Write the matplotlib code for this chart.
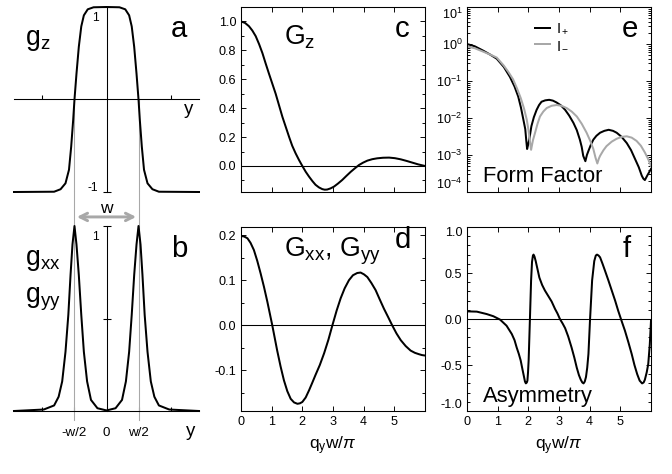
import matplotlib
matplotlib.use("Agg")
import matplotlib.pyplot as plt
from matplotlib.ticker import AutoMinorLocator, LogLocator, NullFormatter

plt.rcParams['font.family'] = ['Liberation Sans', 'DejaVu Sans']
plt.rcParams['mathtext.fontset'] = 'custom'
plt.rcParams['mathtext.rm'] = 'Liberation Sans'
plt.rcParams['mathtext.it'] = 'Liberation Sans:italic'
plt.rcParams['mathtext.bf'] = 'Liberation Sans:bold'
plt.rcParams['axes.unicode_minus'] = False

# real-space profiles (y in units of w)
y_a = [-1.43, -0.81, -0.71, -0.634, -0.58, -0.546, -0.515, -0.495, -0.464, -0.428,
       -0.39, -0.35, -0.29, -0.20, 0.0, 0.20, 0.29, 0.35, 0.39, 0.428, 0.464,
       0.495, 0.515, 0.546, 0.58, 0.634, 0.71, 0.81, 1.43]
gz = [-1.0, -0.997, -0.97, -0.906, -0.76, -0.51, -0.22, 0.0, 0.28, 0.57,
      0.79, 0.91, 0.975, 0.997, 1.0, 0.997, 0.975, 0.91, 0.79, 0.57, 0.28,
      0.0, -0.22, -0.51, -0.76, -0.906, -0.97, -0.997, -1.0]

y_b = [-1.43, -0.97, -0.81, -0.74, -0.685, -0.634, -0.59, -0.556, -0.526, -0.495,
       -0.464, -0.428, -0.39, -0.35, -0.30, -0.24, -0.14, 0.0, 0.14, 0.24, 0.30,
       0.35, 0.39, 0.428, 0.464, 0.495, 0.526, 0.556, 0.59, 0.634, 0.685, 0.74,
       0.81, 0.97, 1.43]
gxx = [0.0, 0.008, 0.03, 0.077, 0.16, 0.32, 0.52, 0.735, 0.90, 1.0,
       0.90, 0.735, 0.52, 0.32, 0.16, 0.06, 0.015, 0.003, 0.015, 0.06, 0.16,
       0.32, 0.52, 0.735, 0.90, 1.0, 0.90, 0.735, 0.52, 0.32, 0.16, 0.077,
       0.03, 0.008, 0.0]

# Fourier transforms vs q_y w / pi
q_c = [0.0, 0.13, 0.26, 0.37, 0.48, 0.59, 0.70, 0.80, 0.91, 1.02, 1.13, 1.24, 1.35,
       1.46, 1.57, 1.67, 1.78, 1.89, 2.0, 2.11, 2.22, 2.33, 2.43, 2.54, 2.65, 2.73,
       2.81, 2.92, 3.03, 3.16, 3.30, 3.44, 3.58, 3.72, 3.85, 3.98, 4.12, 4.28, 4.44,
       4.63, 4.83, 5.02, 5.21, 5.40, 5.59, 5.78, 6.0]
Gz = [1.0, 0.99, 0.967, 0.937, 0.898, 0.843, 0.78, 0.712, 0.64, 0.57, 0.50, 0.42,
      0.34, 0.27, 0.20, 0.14, 0.088, 0.042, 0.0, -0.04, -0.074, -0.105, -0.13,
      -0.148, -0.16, -0.164, -0.163, -0.155, -0.143, -0.122, -0.097, -0.068, -0.04,
      -0.015, 0.007, 0.023, 0.037, 0.047, 0.053, 0.057, 0.058, 0.054, 0.046, 0.035,
      0.023, 0.011, 0.0]

q_d = [0.0, 0.10, 0.21, 0.31, 0.42, 0.53, 0.64, 0.75, 0.86, 0.94, 1.02, 1.10, 1.18,
       1.29, 1.40, 1.51, 1.62, 1.73, 1.84, 1.92, 2.0, 2.11, 2.22, 2.32, 2.43, 2.57,
       2.71, 2.85, 2.98, 3.12, 3.25, 3.38, 3.52, 3.65, 3.79, 3.90, 4.01, 4.12, 4.25,
       4.39, 4.52, 4.66, 4.80, 4.93, 5.07, 5.21, 5.37, 5.53, 5.67, 5.80, 5.90, 6.0]
Gxx = [0.198, 0.197, 0.193, 0.183, 0.167, 0.143, 0.115, 0.085, 0.052, 0.026, 0.0,
       -0.028, -0.056, -0.091, -0.122, -0.146, -0.163, -0.171, -0.174, -0.173,
       -0.17, -0.16, -0.144, -0.128, -0.11, -0.088, -0.062, -0.032, 0.0, 0.033,
       0.06, 0.082, 0.10, 0.111, 0.116, 0.117, 0.113, 0.107, 0.094, 0.078, 0.058,
       0.037, 0.018, 0.0, -0.018, -0.033, -0.046, -0.056, -0.061, -0.064, -0.066,
       -0.067]

q_plus = [0.0, 0.25, 0.53, 0.75, 0.97, 1.20, 1.40, 1.55, 1.67, 1.76, 1.84, 1.90,
          1.93, 1.96, 2.0, 2.03, 2.10, 2.18, 2.27, 2.35, 2.43, 2.55, 2.68, 2.80,
          2.92, 3.06, 3.20, 3.33, 3.47, 3.58, 3.68, 3.74, 3.79, 3.86, 3.91, 3.96,
          4.04, 4.12, 4.22, 4.34, 4.48, 4.62, 4.76, 4.88, 5.04, 5.21, 5.35, 5.48,
          5.60, 5.70, 5.75, 5.80, 5.88, 6.0]
I_plus = [1.0, 0.87, 0.66, 0.52, 0.40, 0.24, 0.129, 0.071, 0.038, 0.019, 8.9e-3,
          5.0e-3, 2.6e-3, 1.45e-3, 2.0e-3, 2.6e-3, 6.0e-3, 1.05e-2, 1.66e-2,
          2.24e-2, 2.75e-2, 3.0e-2, 3.1e-2, 2.95e-2, 2.63e-2, 2.2e-2, 1.66e-2,
          1.17e-2, 7.4e-3, 4.7e-3, 2.6e-3, 1.66e-3, 9.5e-4, 6.8e-4, 1.0e-3, 1.29e-3,
          1.9e-3, 2.6e-3, 3.3e-3, 4.0e-3, 4.5e-3, 4.8e-3, 4.5e-3, 4.0e-3, 3.1e-3,
          2.1e-3, 1.35e-3, 7.8e-4, 4.7e-4, 2.75e-4, 2.3e-4, 2.1e-4, 2.8e-4, 4.2e-4]
q_minus = [0.0, 0.25, 0.53, 0.75, 0.97, 1.20, 1.35, 1.50, 1.63, 1.75, 1.86, 1.95,
           2.0, 2.04, 2.09, 2.15, 2.22, 2.30, 2.38, 2.49, 2.60, 2.76, 2.92, 3.08,
           3.25, 3.42, 3.58, 3.74, 3.90, 4.02, 4.12, 4.19, 4.25, 4.30, 4.34, 4.45,
           4.55, 4.72, 4.88, 5.05, 5.21, 5.37, 5.53, 5.67, 5.80, 5.90, 6.0]
I_minus = [0.85, 0.77, 0.62, 0.52, 0.43, 0.26, 0.175, 0.112, 0.063, 0.035, 0.018,
           8.9e-3, 5.0e-3, 2.8e-3, 1.38e-3, 2.5e-3, 4.0e-3, 7.0e-3, 1.1e-2, 1.5e-2,
           1.86e-2, 2.14e-2, 2.24e-2, 2.14e-2, 1.86e-2, 1.48e-2, 1.1e-2, 7.0e-3,
           4.0e-3, 2.4e-3, 1.45e-3, 8.5e-4, 5.9e-4, 8.0e-4, 9.5e-4, 1.35e-3, 1.74e-3,
           2.3e-3, 2.75e-3, 3.1e-3, 3.2e-3, 2.95e-3, 2.4e-3, 1.78e-3, 1.17e-3,
           8.0e-4, 5.1e-4]

q_f = [0.0, 0.32, 0.64, 0.86, 1.08, 1.29, 1.46, 1.55, 1.62, 1.69, 1.75, 1.81, 1.86,
       1.89, 1.92, 1.95, 1.97, 1.99, 2.01, 2.05, 2.09, 2.12, 2.15, 2.17, 2.20, 2.24,
       2.30, 2.36, 2.45, 2.54, 2.65, 2.76, 2.87, 2.95, 3.03, 3.12, 3.20, 3.30, 3.41,
       3.50, 3.58, 3.65, 3.71, 3.76, 3.80, 3.84, 3.88, 3.92, 3.96, 4.01, 4.08, 4.15,
       4.20, 4.24, 4.29, 4.34, 4.42, 4.50, 4.61, 4.72, 4.83, 4.93, 5.04, 5.15, 5.26,
       5.37, 5.46, 5.55, 5.63, 5.71, 5.76, 5.80, 5.86, 5.91, 5.96, 6.0]
asym = [0.083, 0.08, 0.054, 0.03, -0.007, -0.073, -0.163, -0.23, -0.31, -0.38,
        -0.45, -0.55, -0.63, -0.68, -0.70, -0.69, -0.67, -0.58, -0.45, -0.02, 0.42,
        0.62, 0.69, 0.70, 0.68, 0.63, 0.54, 0.45, 0.37, 0.31, 0.25, 0.19, 0.11,
        0.06, 0.0, -0.05, -0.10, -0.19, -0.31, -0.42, -0.53, -0.61, -0.66, -0.69,
        -0.70, -0.68, -0.63, -0.53, -0.38, -0.02, 0.42, 0.63, 0.69, 0.70, 0.69, 0.67,
        0.60, 0.525, 0.42, 0.31, 0.20, 0.09, -0.02, -0.127, -0.25, -0.38, -0.50,
        -0.60, -0.67, -0.70, -0.69, -0.66, -0.58, -0.49, -0.28, -0.02]

q_ticks = [0, 1, 2, 3, 4, 5]
e_ticks = [1e-4, 1e-3, 1e-2, 1e-1, 1e0, 1e1]
e_labels = [r'$\mathregular{10^{-4}}$', r'$\mathregular{10^{-3}}$', r'$\mathregular{10^{-2}}$',
            r'$\mathregular{10^{-1}}$', r'$\mathregular{10^{0}}$', r'$\mathregular{10^{1}}$']

GRAY = '#a8a8a8'
fig = plt.figure(figsize=(7, 4.9375), dpi=96)


def box(l, t, r, b):
    # pixel box -> figure fraction
    return [l / 672, 1 - b / 474, (r - l) / 672, (b - t) / 474]


ax_a = fig.add_axes(box(14, 7, 199, 192))
ax_b = fig.add_axes(box(14, 226, 199, 411))
ax_c = fig.add_axes(box(241, 7, 425, 192))
ax_d = fig.add_axes(box(241, 227, 425, 411))
ax_e = fig.add_axes(box(467, 7, 651, 192))
ax_f = fig.add_axes(box(467, 227, 651, 411))

# --- left column: cross-hair axes through the origin
for ax in (ax_a, ax_b):
    ax.patch.set_visible(False)
    ax.spines['left'].set_position(('data', 0))
    ax.spines['top'].set_visible(False)
    ax.spines['right'].set_visible(False)
    for s in ('left', 'bottom'):
        ax.spines[s].set_linewidth(0.8)
    ax.set_xlim(-1.43, 1.43)
    ax.tick_params(axis='x', direction='in', length=3, width=0.8)
    ax.tick_params(axis='y', direction='inout', length=6, width=0.8, labelleft=False)

ax_a.spines['bottom'].set_position(('data', 0))
ax_a.set_ylim(-1, 1)
ax_a.set_xticks([-1, 1])
ax_a.set_xticklabels([])
ax_a.set_yticks([-1, 1])
ax_a.plot([-0.5, -0.5], [-1, 0], color=GRAY, lw=0.8)
ax_a.plot([0.5, 0.5], [-1, 0], color=GRAY, lw=0.8)
ax_a.plot(y_a, gz, color='k', lw=1.5, clip_on=False)
ax_a.text(0.059, 0.795, r'$\mathregular{g_z}$', transform=ax_a.transAxes, fontsize=20)
ax_a.text(0.889, 0.838, 'a', transform=ax_a.transAxes, fontsize=22, ha='center')
ax_a.text(0.946, 0.422, 'y', transform=ax_a.transAxes, fontsize=14, ha='center')
ax_a.text(0.438, 0.94, '1', transform=ax_a.transAxes, fontsize=9, ha='center', va='center')
ax_a.text(0.427, 0.022, '-1', transform=ax_a.transAxes, fontsize=9, ha='center', va='center')

ax_b.set_ylim(0, 1)
ax_b.set_xticks([-1, -0.5, 0, 0.5, 1])
ax_b.set_xticklabels(['', '-w/2', '0', 'w/2', ''], fontsize=10)
ax_b.tick_params(axis='x', pad=12)
ax_b.set_yticks([0.5, 1])
ax_b.plot([-0.5, -0.5], [-0.05, 1.184], color=GRAY, lw=0.8, clip_on=False)
ax_b.plot([0.5, 0.5], [-0.05, 1.184], color=GRAY, lw=0.8, clip_on=False)
ax_b.plot(y_b, gxx, color='k', lw=1.5, clip_on=False)
ax_b.annotate('', xy=(-0.5, 1.049), xytext=(0.5, 1.049),
              arrowprops=dict(arrowstyle='<->', color=GRAY, lw=2.2, mutation_scale=14),
              annotation_clip=False)
ax_b.text(0, 1.07, 'w', fontsize=13, ha='center')
ax_b.text(0.059, 0.789, r'$\mathregular{g_{xx}}$', transform=ax_b.transAxes, fontsize=20)
ax_b.text(0.059, 0.589, r'$\mathregular{g_{yy}}$', transform=ax_b.transAxes, fontsize=20)
ax_b.text(0.895, 0.832, 'b', transform=ax_b.transAxes, fontsize=22, ha='center')
ax_b.text(0.957, -0.135, 'y', transform=ax_b.transAxes, fontsize=14, ha='center')
ax_b.text(0.438, 0.94, '1', transform=ax_b.transAxes, fontsize=9, ha='center', va='center')

# --- boxed panels
for ax in (ax_c, ax_d, ax_e, ax_f):
    ax.set_xlim(0, 6)
    ax.set_xticks(q_ticks)
    for s in ax.spines.values():
        s.set_linewidth(0.8)
    ax.tick_params(which='both', direction='in', top=True, right=True, width=0.7,
                   labelsize=9.5)
    ax.tick_params(which='major', length=4)
    ax.tick_params(which='minor', length=2)
    if ax is not ax_e:
        ax.axhline(0, color='k', lw=0.8)

ax_c.set_ylim(-0.18, 1.1)
ax_c.set_yticks([0, 0.2, 0.4, 0.6, 0.8, 1.0])
ax_c.set_yticklabels(['0.0', '0.2', '0.4', '0.6', '0.8', '1.0'])
ax_c.yaxis.set_minor_locator(AutoMinorLocator(2))
ax_c.set_xticklabels([])
ax_c.plot(q_c, Gz, color='k', lw=1.5)
ax_c.text(0.234, 0.795, r'$\mathregular{G_z}$', transform=ax_c.transAxes, fontsize=20)
ax_c.text(0.878, 0.838, 'c', transform=ax_c.transAxes, fontsize=22, ha='center')

ax_d.set_ylim(-0.19, 0.218)
ax_d.set_yticks([-0.1, 0, 0.1, 0.2])
ax_d.set_yticklabels(['-0.1', '0.0', '0.1', '0.2'])
ax_d.yaxis.set_minor_locator(AutoMinorLocator(2))
ax_d.plot(q_d, Gxx, color='k', lw=1.5)
ax_d.text(0.234, 0.837, r'$\mathregular{G_{xx}}$, $\mathregular{G_{yy}}$',
          transform=ax_d.transAxes, fontsize=20)
ax_d.text(0.882, 0.886, 'd', transform=ax_d.transAxes, fontsize=22, ha='center')
ax_d.set_xlabel(r'$\mathregular{q_yw/}\pi$', fontsize=13, labelpad=5)

ax_e.set_yscale('log')
ax_e.set_ylim(1e-4, 1e1)
ax_e.set_yticks(e_ticks)
ax_e.set_yticklabels(e_labels)
ax_e.yaxis.set_minor_locator(LogLocator(base=10, subs=range(2, 10), numticks=20))
ax_e.yaxis.set_minor_formatter(NullFormatter())
ax_e.set_xticklabels([])
ax_e.plot(q_plus, I_plus, color='k', lw=1.5, label=r'$\mathregular{I_+}$')
ax_e.plot(q_minus, I_minus, color=GRAY, lw=1.5, label=r'$\mathregular{I_-}$')
ax_e.legend(loc='upper left', bbox_to_anchor=(0.37, 0.92), frameon=False, fontsize=11,
            handlelength=1.0, handletextpad=0.4, labelspacing=0.1, borderpad=0,
            borderaxespad=0)
ax_e.text(0.883, 0.838, 'e', transform=ax_e.transAxes, fontsize=22, ha='center')
ax_e.text(0.087, 0.054, 'Form Factor', transform=ax_e.transAxes, fontsize=16.5)

ax_f.set_ylim(-1.0, 1.0)
ax_f.set_yticks([-1.0, -0.5, 0, 0.5, 1.0])
ax_f.set_yticklabels(['-1.0', '-0.5', '0.0', '0.5', '1.0'])
ax_f.yaxis.set_minor_locator(AutoMinorLocator(5))
ax_f.plot(q_f, asym, color='k', lw=1.5)
ax_f.text(0.87, 0.837, 'f', transform=ax_f.transAxes, fontsize=22, ha='center')
ax_f.text(0.087, 0.049, 'Asymmetry', transform=ax_f.transAxes, fontsize=16.5)
ax_f.set_xlabel(r'$\mathregular{q_yw/}\pi$', fontsize=13, labelpad=5)

# edge tick labels sit inside the box, as in the original
for ax in (ax_e, ax_f):
    labs = ax.get_yticklabels()
    labs[0].set_va('bottom')
    labs[-1].set_va('top')

fig.savefig('out.png', dpi=96)
